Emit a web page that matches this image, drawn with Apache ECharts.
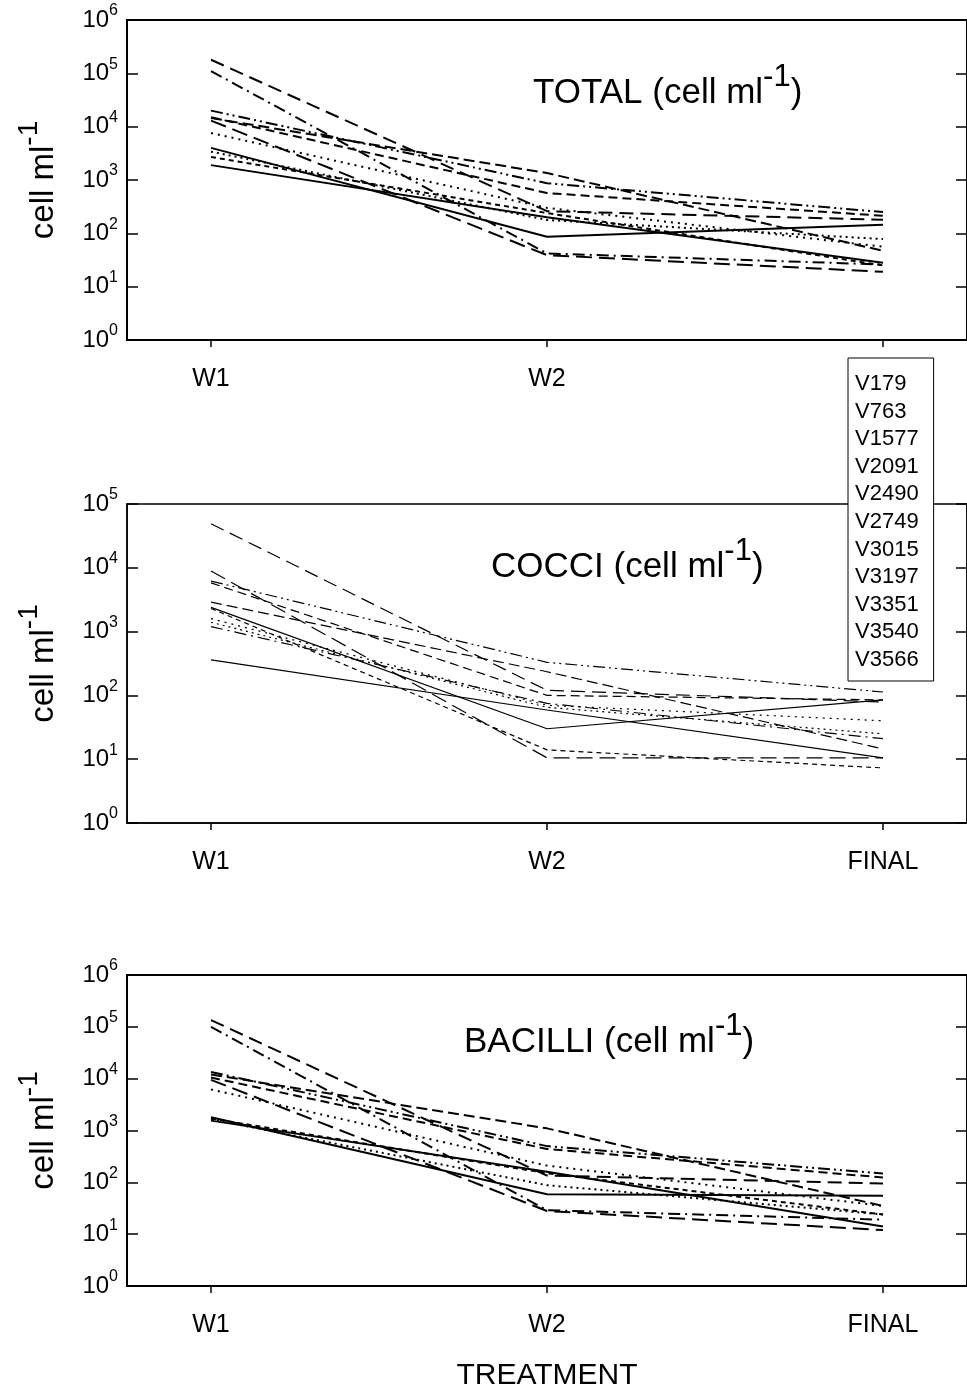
<!DOCTYPE html>
<html>
<head>
<meta charset="utf-8">
<script src="https://cdn.jsdelivr.net/npm/echarts@6/dist/echarts.min.js"></script>
<style>
  html, body { margin: 0; padding: 0; background: #fff; }
  #chart { width: 967px; height: 1392px; }
</style>
</head>
<body>
<div id="chart"></div>
<script>
// ---------- DATA ----------
const categories = ['W1', 'W2', 'FINAL'];
const seriesNames = ['V179', 'V763', 'V1577', 'V2091', 'V2490', 'V2749', 'V3015', 'V3197', 'V3351', 'V3540', 'V3566'];

// TOTAL (cell ml-1)
const totalW1    = [4000, 180000, 15000, 2700, 7600, 110000, 20000, 1900, 13000, 14500, 3400];
const totalW2    = [86,   260,    570,   240,  300,  42,     870,   200,  39,    1350,  178];
const totalFinal = [145,  180,    213,   25,   56,   26,     250,   28,   19,    47,    78];

// COCCI (cell ml-1)
const cocciW1    = [2400, 49000, 5800, 2300, 1600, 1200, 6200, 360,  8900, 2900, 1400];
const cocciW2    = [30,   120,   100,  14,   70,   75,   330,  59,   10.5, 235,  65];
const cocciFinal = [85,   79,    85,   7.3,  40,   21,   113,  10.5, 10.5, 14.5, 25];

// BACILLI (cell ml-1)
const bacilliW1    = [1800, 135000, 10500, 1700, 6200, 100000, 13500, 1550, 9500, 12000, 1650];
const bacilliW2    = [59,   135,    440,   150,  210,  29,     500,   160,  28,   1100,  88];
const bacilliFinal = [55,   95,     124,   24,   35,   19,     148,   14,   12,   35,    24];

// ---------- STYLE ----------
const dashStyles = [
  'solid',
  [14, 7],
  [9, 5],
  [5, 4],
  [2, 5],
  [12, 5, 2, 5],
  [12, 4, 2, 4, 2, 4],
  'solid',
  [16, 7],
  [11, 5],
  [2, 4]
];

const FONT = 'Liberation Sans, Arial, sans-serif';

const panels = [
  { title: 'TOTAL',   w1: totalW1,   w2: totalW2,   fin: totalFinal,   top: 20,  height: 320, maxExp: 6, lw: 2,   frame: 2 },
  { title: 'COCCI',   w1: cocciW1,   w2: cocciW2,   fin: cocciFinal,   top: 504, height: 319, maxExp: 5, lw: 1.2, frame: 1.5 },
  { title: 'BACILLI', w1: bacilliW1, w2: bacilliW2, fin: bacilliFinal, top: 975, height: 318, maxExp: 6, lw: 2,   frame: 2 }
];
const titlePos = [
  { left: 528, top: 57 },
  { left: 486, top: 531 },
  { left: 459, top: 1006 }
];

const grids = [], xAxes = [], yAxes = [], series = [], titles = [];

panels.forEach((p, i) => {
  grids.push({
    left: 127, top: p.top, width: 848, height: p.height,
    show: true, borderColor: '#000', borderWidth: p.frame, backgroundColor: 'transparent'
  });
  xAxes.push({
    type: 'value', gridIndex: i, min: -0.25, max: 2.25,
    axisLine: { show: true, onZero: false, lineStyle: { color: '#000', width: p.frame } },
    axisTick: { show: true, inside: false, length: 7, customValues: [0, 1, 2], lineStyle: { color: '#000', width: 1.5 } },
    axisLabel: {
      show: true, customValues: [0, 1, 2], margin: 27,
      formatter: v => categories[Math.round(v)],
      fontSize: 25, color: '#000', fontFamily: FONT
    },
    splitLine: { show: false },
    name: i === 2 ? 'TREATMENT' : '',
    nameLocation: 'middle', nameGap: 75,
    nameTextStyle: { fontSize: 30, color: '#000', fontFamily: FONT }
  });
  yAxes.push({
    type: 'log', logBase: 10, gridIndex: i, min: 1, max: Math.pow(10, p.maxExp), splitNumber: p.maxExp,
    position: 'left',
    axisLine: { show: true, onZero: false, lineStyle: { color: '#000', width: p.frame } },
    axisTick: { show: true, inside: true, length: 11, lineStyle: { color: '#000', width: 1.5 } },
    axisLabel: {
      show: true, margin: 9,
      formatter: v => '{b|10}{s|' + Math.round(Math.log10(v)) + '}',
      rich: {
        b: { fontSize: 24, color: '#000', fontFamily: FONT, verticalAlign: 'middle' },
        s: { fontSize: 16, color: '#000', fontFamily: FONT, verticalAlign: 'middle', padding: [0, 0, 18, 0] }
      }
    },
    splitLine: { show: false },
    name: '{a|cell ml}{s|-1}',
    nameLocation: 'middle', nameGap: 54, nameRotate: 90,
    nameTextStyle: {
      rich: {
        a: { fontSize: 33, color: '#000', fontFamily: FONT, verticalAlign: 'middle' },
        s: { fontSize: 28, color: '#000', fontFamily: FONT, verticalAlign: 'middle', padding: [0, 0, 30, 0] }
      }
    }
  });
  titles.push({
    text: '{a|' + p.title + ' (cell ml}{s|-1}{a|)}',
    left: titlePos[i].left, top: titlePos[i].top,
    textStyle: {
      fontWeight: 'normal',
      rich: {
        a: { fontSize: 35, fontWeight: 'normal', color: '#000', fontFamily: FONT, verticalAlign: 'middle' },
        s: { fontSize: 31, fontWeight: 'normal', color: '#000', fontFamily: FONT, verticalAlign: 'middle', padding: [0, 0, 32, 0] }
      }
    }
  });
});

// right-side mirrored tick axes
panels.forEach((p, i) => {
  yAxes.push({
    type: 'log', logBase: 10, gridIndex: i, min: 1, max: Math.pow(10, p.maxExp), splitNumber: p.maxExp,
    position: 'right',
    axisLine: { show: true, onZero: false, lineStyle: { color: '#000', width: p.frame } },
    axisTick: { show: true, inside: true, length: 11, lineStyle: { color: '#000', width: 1.5 } },
    axisLabel: { show: false },
    splitLine: { show: false }
  });
});

panels.forEach((p, i) => {
  seriesNames.forEach((name, k) => {
    series.push({
      name: name,
      type: 'line',
      xAxisIndex: i,
      yAxisIndex: i,
      data: [[0, p.w1[k]], [1, p.w2[k]], [2, p.fin[k]]],
      symbol: 'none',
      lineStyle: { color: '#000', width: p.lw, type: dashStyles[k] },
      itemStyle: { color: '#000' },
      emphasis: { disabled: true },
      z: 3
    });
  });
});

const chart = echarts.init(document.getElementById('chart'), null, { renderer: 'canvas' });
chart.setOption({
  animation: false,
  backgroundColor: '#fff',
  title: titles,
  grid: grids,
  xAxis: xAxes,
  yAxis: yAxes,
  legend: {
    data: seriesNames,
    orient: 'vertical',
    left: 848, top: 358,
    icon: 'none',
    itemWidth: 0, itemHeight: 22, itemGap: 5.6,
    padding: [15, 15, 10, 2],
    backgroundColor: '#fff',
    borderColor: '#000', borderWidth: 1,
    selectedMode: false,
    textStyle: { fontSize: 22, color: '#000', fontFamily: FONT, lineHeight: 22 },
    z: 20
  },
  series: series
});
</script>
</body>
</html>
